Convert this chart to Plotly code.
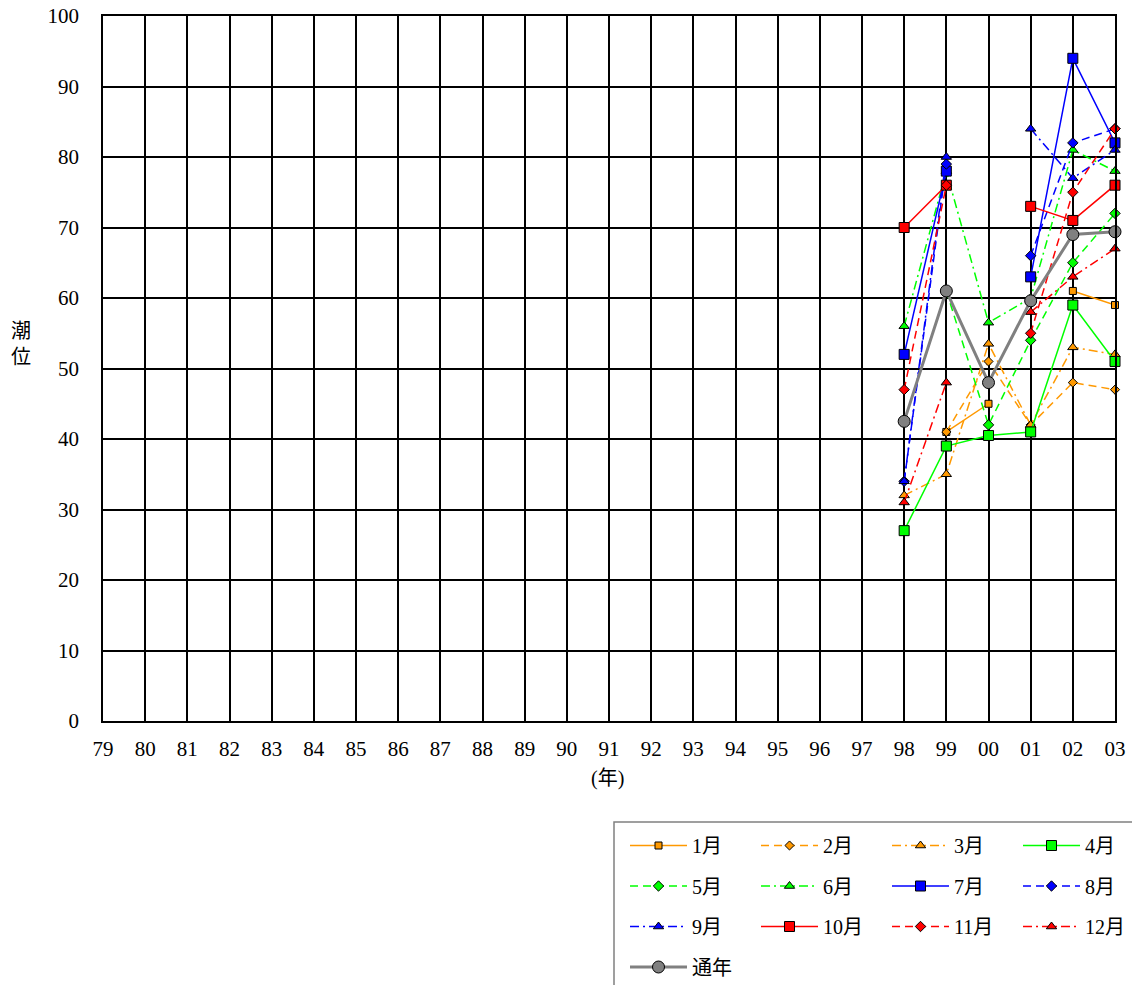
import plotly.graph_objects as go

years = [f"{y:02d}" for y in list(range(79, 100)) + list(range(0, 4))]
pad = [None] * 19  # 79..97 have no data

jan = pad + [None, 41, 45, None, 61, 59]
feb = pad + [None, 41, 51, 42, 48, 47]
mar = pad + [32, 35, 53.5, 42, 53, 52]
apr = pad + [27, 39, 40.5, 41, 59, 51]
may = pad + [None, 61, 42, 54, 65, 72]
jun = pad + [56, 78, 56.5, 60, 81, 78]
jul = pad + [52, 78, None, 63, 94, 82]
aug = pad + [34, 79, None, 66, 82, 84]
sep = pad + [34, 80, None, 84, 77, 81]
oct_ = pad + [70, 76, None, 73, 71, 76]
nov = pad + [47, 76, None, 55, 75, 84]
dec = pad + [31, 48, None, 58, 63, 67]
annual = pad + [42.5, 61, 48, 59.6, 69, 69.4]

ORANGE = "#FF9900"
GREEN = "#00FF00"
BLUE = "#0000FF"
RED = "#FF0000"
GRAY = "#808080"
DASH = "8px,5px"
DASHDOT = "9px,4px,2px,4px"

series = [
    ("1月", jan, ORANGE, "solid", "square", 7),
    ("2月", feb, ORANGE, DASH, "diamond", 7),
    ("3月", mar, ORANGE, DASHDOT, "triangle-up", 9),
    ("4月", apr, GREEN, "solid", "square", 10),
    ("5月", may, GREEN, DASH, "diamond", 8),
    ("6月", jun, GREEN, DASHDOT, "triangle-up", 9),
    ("7月", jul, BLUE, "solid", "square", 10),
    ("8月", aug, BLUE, DASH, "diamond", 8),
    ("9月", sep, BLUE, DASHDOT, "triangle-up", 9),
    ("10月", oct_, RED, "solid", "square", 10),
    ("11月", nov, RED, DASH, "diamond", 8),
    ("12月", dec, RED, DASHDOT, "triangle-up", 9),
]

FONT = "Liberation Serif, DejaVu Serif, Noto Sans CJK JP, serif"
LEGENDS = ["legend", "legend2", "legend3", "legend4"]

fig = go.Figure()
for i, (name, vals, col, dash, sym, size) in enumerate(series):
    fig.add_trace(go.Scatter(
        x=years, y=vals, name=name, mode="lines+markers",
        line=dict(color=col, width=1.5, dash=dash),
        marker=dict(symbol=sym, size=size, color=col,
                    line=dict(color="black", width=1)),
        cliponaxis=False, connectgaps=False,
        legend=LEGENDS[i % 4], legendgroup=name,
    ))
fig.add_trace(go.Scatter(
    x=years, y=annual, name="通年", mode="lines+markers",
    line=dict(color=GRAY, width=3),
    marker=dict(symbol="circle", size=12, color=GRAY,
                line=dict(color="black", width=1)),
    cliponaxis=False, legend="legend", legendgroup="通年",
))

W, H = 1132, 985
col_left = [625, 756, 887, 1018]
leg_top = 826
legend_common = dict(
    orientation="v", xref="container", yref="container",
    xanchor="left", yanchor="top", bgcolor="rgba(0,0,0,0)",
    borderwidth=0, itemwidth=57, tracegroupgap=11.5,
    font=dict(family=FONT, size=20), traceorder="grouped",
)
legend_layout = {}
for k, name in enumerate(LEGENDS):
    legend_layout[name] = dict(legend_common, x=col_left[k] / W, y=1 - leg_top / H)

fig.update_layout(
    width=W, height=H,
    margin=dict(l=103, r=17, t=16, b=264, autoexpand=False),
    paper_bgcolor="white", plot_bgcolor="white",
    font=dict(family=FONT, size=22, color="black"),
    showlegend=True,
    xaxis=dict(
        type="category", categoryorder="array", categoryarray=years,
        range=[0, 24], showgrid=True, gridcolor="black", gridwidth=1.5,
        showline=True, linecolor="black", linewidth=1.5, mirror=True,
        ticks="", tickfont=dict(size=21), ticklabelstandoff=8,
        ticklabeloverflow="allow", automargin=False, zeroline=False,
    ),
    yaxis=dict(
        range=[0, 100], dtick=10, showgrid=True, gridcolor="black", gridwidth=1.5,
        showline=True, linecolor="black", linewidth=1.5, mirror=True,
        ticks="", tickfont=dict(size=21), ticklabelstandoff=18,
        ticklabeloverflow="allow", automargin=False, zeroline=False,
    ),
    shapes=[dict(
        type="rect", xref="paper", yref="paper",
        x0=(614 - 103) / 1012, x1=(1140 - 103) / 1012,
        y0=(721 - 995) / 705, y1=(721 - 822) / 705,
        line=dict(color="#808080", width=1.5), fillcolor="rgba(0,0,0,0)",
        layer="below",
    )],
    annotations=[
        dict(text="潮<br>位", xref="paper", yref="paper", x=-0.081, y=0.535,
             xanchor="center", yanchor="middle", showarrow=False,
             font=dict(family=FONT, size=20)),
        dict(text="(年)", xref="paper", yref="paper", x=0.4985, y=(721 - 778) / 705,
             xanchor="center", yanchor="middle", showarrow=False,
             font=dict(family=FONT, size=20)),
    ],
    **legend_layout,
)

fig.write_html("out.html", config={"displayModeBar": False},
               post_script="document.body.style.margin='0';")
